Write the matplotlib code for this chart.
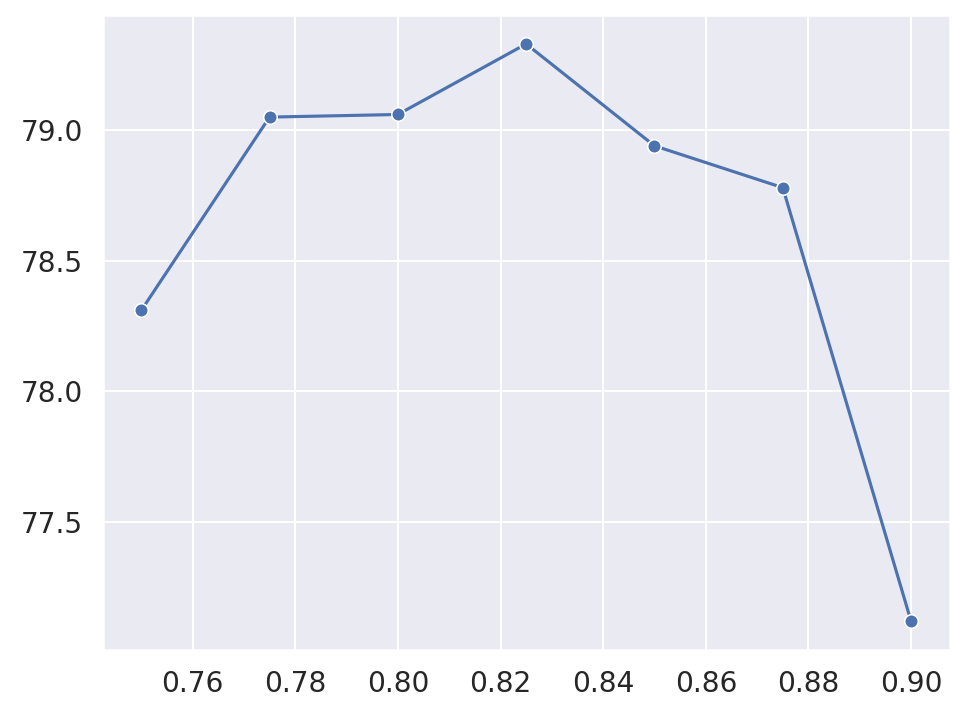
import numpy as np
import seaborn as sns
from matplotlib import pyplot as plt

thresholds = [0.75, 0.775, 0.80, 0.825, 0.85, 0.875, 0.90]
scores = [78.31, 79.05, 79.06, 79.33, 78.94, 78.78, 77.12]

sns.set_theme(style="darkgrid")

fig = plt.figure(figsize=(969 / 150, 717 / 150), dpi=150)
ax = fig.add_axes([0.106, 0.093, 0.874, 0.886])
sns.lineplot(x=thresholds, y=scores, marker='o', markersize=6.5, ax=ax)
ax.set_yticks([77.5, 78.0, 78.5, 79.0])
ax.set_xticks([0.76, 0.78, 0.80, 0.82, 0.84, 0.86, 0.88, 0.90])
ax.tick_params(labelsize=13.5)

fig.savefig("out.png", dpi=150)
